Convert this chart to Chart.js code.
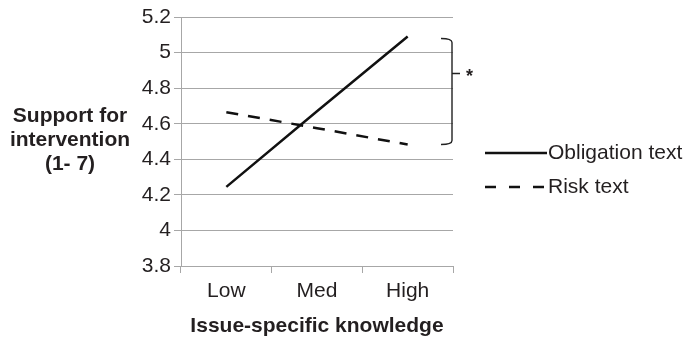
<!DOCTYPE html>
<html>
<head>
<meta charset="utf-8">
<script src="https://cdn.jsdelivr.net/npm/chart.js@4.4.1/dist/chart.umd.min.js"></script>
<style>
html, body { margin: 0; padding: 0; background: #fff; }
#wrap { width: 686px; height: 339px; position: relative; }
</style>
</head>
<body>
<div id="wrap"><canvas id="chart"></canvas></div>
<script>
// Data
const knowledgeLevels = ['Low', 'Med', 'High'];
const obligationValues = [4.245, 4.67, 5.09];
const riskValues = [4.665, 4.575, 4.483];
const yTicks = [3.8, 4, 4.2, 4.4, 4.6, 4.8, 5, 5.2];
const seriesNames = ['Obligation text', 'Risk text'];
const yTitleLines = ['Support for', 'intervention', '(1- 7)'];
const xTitle = 'Issue-specific knowledge';
const significance = '*';

const textColor = '#231f20';
const gridColor = '#a7a7a7';
const fontFamily = '"Liberation Sans", Arial, Helvetica, sans-serif';

// Horizontal, bold y axis title on the left
const yTitlePlugin = {
    id: 'yTitle',
    afterDraw(chart) {
        const ctx = chart.ctx;
        const area = chart.chartArea;
        const mid = (area.top + area.bottom) / 2 - 1;
        ctx.save();
        ctx.font = 'bold 21px ' + fontFamily;
        ctx.fillStyle = textColor;
        ctx.textAlign = 'center';
        ctx.textBaseline = 'middle';
        yTitleLines.forEach((line, i) => {
            ctx.fillText(line, 70, mid + (i - 1) * 24);
        });
        ctx.restore();
    }
};

// Bracket between the two series at "High", with the asterisk
const bracketPlugin = {
    id: 'bracket',
    afterDraw(chart) {
        const ctx = chart.ctx;
        const y = chart.scales.y;
        const last = knowledgeLevels.length - 1;
        const top = y.getPixelForValue(obligationValues[last]) + 2;
        const bottom = y.getPixelForValue(riskValues[last]);
        const x = chart.chartArea.right - 1;
        const mid = (top + bottom) / 2 - 18;
        ctx.save();
        ctx.strokeStyle = '#222';
        ctx.lineWidth = 1.4;
        ctx.beginPath();
        ctx.moveTo(x - 11, top);
        ctx.quadraticCurveTo(x, top, x, top + 4);
        ctx.lineTo(x, bottom - 4);
        ctx.quadraticCurveTo(x, bottom, x - 11, bottom);
        ctx.moveTo(x, mid);
        ctx.lineTo(x + 8, mid);
        ctx.stroke();
        ctx.font = 'bold 18px ' + fontFamily;
        ctx.fillStyle = textColor;
        ctx.textAlign = 'left';
        ctx.textBaseline = 'middle';
        ctx.fillText(significance, x + 14, mid + 3);
        ctx.restore();
    }
};

// Legend on the right with line samples
const legendPlugin = {
    id: 'sideLegend',
    afterDraw(chart) {
        const ctx = chart.ctx;
        const area = chart.chartArea;
        const x0 = area.right + 32;
        ctx.save();
        chart.data.datasets.forEach((ds, i) => {
            const yy = area.top + 136 + i * 34;
            ctx.strokeStyle = ds.borderColor;
            ctx.lineWidth = 2.5;
            ctx.setLineDash(i === 0 ? [] : [11, 13]);
            ctx.beginPath();
            ctx.moveTo(x0, yy);
            ctx.lineTo(x0 + 62, yy);
            ctx.stroke();
            ctx.setLineDash([]);
            ctx.font = '21px ' + fontFamily;
            ctx.fillStyle = textColor;
            ctx.textAlign = 'left';
            ctx.textBaseline = 'middle';
            ctx.fillText(ds.label, x0 + 63, yy);
        });
        ctx.restore();
    }
};

new Chart(document.getElementById('chart'), {
    type: 'line',
    data: {
        labels: knowledgeLevels,
        datasets: [{
            label: seriesNames[0],
            data: obligationValues,
            borderColor: '#111',
            borderWidth: 2.5,
            pointRadius: 0,
            tension: 0
        }, {
            label: seriesNames[1],
            data: riskValues,
            borderColor: '#111',
            borderWidth: 2.5,
            borderDash: [12, 10],
            pointRadius: 0,
            tension: 0
        }]
    },
    options: {
        responsive: true,
        maintainAspectRatio: false,
        animation: false,
        layout: {
            padding: { left: 0, right: 233, top: 17, bottom: 0 }
        },
        scales: {
            x: {
                offset: true,
                grid: {
                    offset: true,
                    drawOnChartArea: false,
                    color: gridColor,
                    tickLength: 7
                },
                border: { color: gridColor },
                ticks: {
                    color: textColor,
                    font: { family: fontFamily, size: 21 },
                    padding: 6
                },
                title: {
                    display: true,
                    text: xTitle,
                    color: textColor,
                    font: { family: fontFamily, size: 21, weight: 'bold' },
                    padding: { top: 2, bottom: 0 }
                },
                afterFit(scale) { scale.height = 73; }
            },
            y: {
                min: 3.8,
                max: 5.2,
                afterBuildTicks(scale) {
                    scale.ticks = yTicks.map(v => ({ value: v }));
                },
                grid: {
                    color: gridColor,
                    tickLength: 7
                },
                border: { color: gridColor },
                ticks: {
                    color: textColor,
                    font: { family: fontFamily, size: 21 },
                    padding: 3,
                    callback: value => String(Math.round(value * 10) / 10)
                },
                afterFit(scale) { scale.width = 181; }
            }
        },
        plugins: {
            legend: { display: false },
            tooltip: { enabled: false }
        }
    },
    plugins: [yTitlePlugin, bracketPlugin, legendPlugin]
});
</script>
</body>
</html>
